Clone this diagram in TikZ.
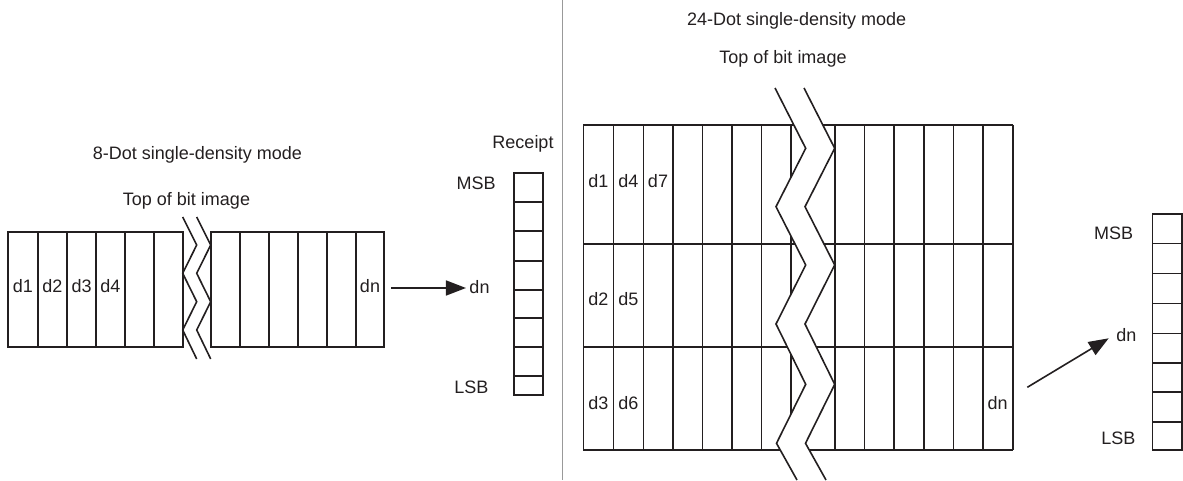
\documentclass[tikz,border=0pt]{standalone}
\usepackage{fontspec}
\setmainfont{Liberation Sans}
\usetikzlibrary{arrows.meta}
\definecolor{ink}{HTML}{231F20}
\begin{document}
\begin{tikzpicture}[x=1pt,y=-1pt,
  ln/.style={draw=ink, line width=1.6pt},
  lab/.style={font=\fontsize{18}{21}\selectfont, inner sep=0pt, text height=12.9pt, text depth=0pt, text=ink},
  arr/.style={draw=ink, line width=1.6pt, -{Triangle[length=20pt,width=15pt]}},
  sep/.style={draw=black!40, line width=1.2pt}
]
\useasboundingbox (0,0) rectangle (1183,481);

% ---------------- left: 8-dot ----------------
\node[lab] (t8) at (197.5,153) {8-Dot single-density mode};
\node[lab] (top8) at (186.5,199) {Top of bit image};

\draw[ln] (8,232) rectangle (183,347);
\foreach \x in {37.7,67,96,125,154} \draw[ln] (\x,232) -- (\x,347);
\draw[ln] (211,232) rectangle (384,347);
\foreach \x in {240,269,298,327,356} \draw[ln] (\x,232) -- (\x,347);

\draw[ln] (182.7,217) -- (196.7,245) -- (182.7,273.3) -- (196.7,301.7) -- (182.7,330) -- (196.7,359);
\draw[ln] (196.7,217) -- (210.7,245) -- (196.7,273.3) -- (210.7,301.7) -- (196.7,330) -- (210.7,359);

\node[lab] (l1) at (22.9,285.7) {d1};
\node[lab] (l2) at (52.3,285.7) {d2};
\node[lab] (l3) at (81.7,285.7) {d3};
\node[lab] (l4) at (110.3,285.7) {d4};
\node[lab] (ln) at (370,285.7) {dn};

\node[lab] (rec) at (523,141.7) {Receipt};
\node[lab] (msbL) at (476.2,183.3) {MSB};
\node[lab] (lsbL) at (471.3,386.7) {LSB};
\node[lab] (dnL) at (479.5,286.7) {dn};
\draw[ln] (514,173.3) rectangle (542.7,395);
\foreach \y in {202.3,231,261,289.7,318,347,375.7} \draw[ln] (514,\y) -- (542.7,\y);

\coordinate (la) at (391,288);
\draw[arr] (la) -- ([xshift=-3.3pt]dnL.west |- la);

% separator
\draw[sep] (562.7,0) -- (562.7,480);

% ---------------- right: 24-dot ----------------
\node[lab] (t24) at (796.7,19) {24-Dot single-density mode};
\node[lab] (top24) at (783,56.7) {Top of bit image};

\foreach \y in {125,244,347,450} \draw[ln] (583.3,\y) -- (1012.7,\y);
\foreach \x in {583.3,613.3,643.3,672.7,702.3,732,761.3,791,835,864.6,894.2,923.8,953.4,983,1012.7}
  \draw[ln] (\x,125) -- (\x,450);

\fill[white] (775,88) -- (805.7,148.3) -- (776,206.7) -- (805.7,265) -- (776,324) -- (805.7,384.3) -- (776.5,443.3) -- (797,480)
  -- (826,480) -- (805.5,443.3) -- (834.7,384.3) -- (805,324) -- (834.7,265) -- (805,206.7) -- (834.7,148.3) -- (804,88) -- cycle;
\draw[ln] (775,88) -- (805.7,148.3) -- (776,206.7) -- (805.7,265) -- (776,324) -- (805.7,384.3) -- (776.5,443.3) -- (797,480);
\draw[ln] (804,88) -- (834.7,148.3) -- (805,206.7) -- (834.7,265) -- (805,324) -- (834.7,384.3) -- (805.5,443.3) -- (826,480);

\node[lab] (r1) at (598.3,180.7) {d1};
\node[lab] (r4) at (628.3,180.7) {d4};
\node[lab] (r7) at (658,180.7) {d7};
\node[lab] (r2) at (598.3,299) {d2};
\node[lab] (r5) at (628.3,299) {d5};
\node[lab] (r3) at (598.3,403.3) {d3};
\node[lab] (r6) at (628.3,403.3) {d6};
\node[lab] (rn) at (997.7,403.3) {dn};

\node[lab] (msbR) at (1113.7,233.3) {MSB};
\node[lab] (lsbR) at (1118.3,438.3) {LSB};
\node[lab] (dnR) at (1126.3,335) {dn};
\draw[ln] (1152.3,214) rectangle (1182.2,450);
\foreach \y in {243.3,273.3,303.3,333.3,362.7,391.7,421.7} \draw[ln] (1152.3,\y) -- (1182.2,\y);

\coordinate (ra) at (1027.3,387.3);
\draw[arr] (ra) -- ([shift={(-7.4,3.3)}]dnR.west);
\end{tikzpicture}
\end{document}
